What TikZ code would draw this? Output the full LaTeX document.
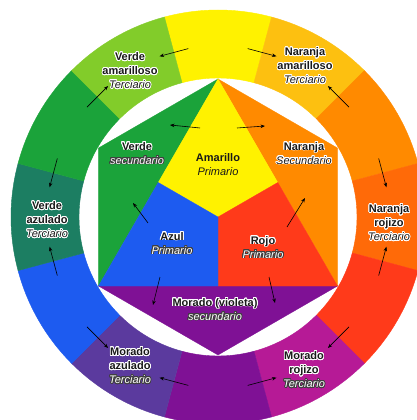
\documentclass[tikz,border=0pt]{standalone}
\usepackage{fontspec}
\setmainfont{Liberation Sans}
\usepackage[copies]{contour}
\usetikzlibrary{arrows.meta}

\contourlength{0.8pt}
\contournumber{24}

% Colores del circulo
\definecolor{amarillo}{HTML}{FFF200}
\definecolor{naranjaamar}{HTML}{FDC010}
\definecolor{naranja}{HTML}{FF8A00}
\definecolor{naranjaroj}{HTML}{FF6A08}
\definecolor{rojo}{HTML}{FF3A1A}
\definecolor{moradoroj}{HTML}{B61A96}
\definecolor{morado}{HTML}{7F1195}
\definecolor{moradoazul}{HTML}{5B3A9E}
\definecolor{azul}{HTML}{1D5BF0}
\definecolor{verdeazul}{HTML}{1C7E62}
\definecolor{verde}{HTML}{1BA33A}
\definecolor{verdeamar}{HTML}{82CC2A}

\newcommand{\nombre}[1]{\contour{white}{\textcolor{black!90}{\bfseries #1}}}
\newcommand{\tipo}[1]{\contour{white}{\textcolor{black!90}{\itshape #1}}}
\newcommand{\tipob}[1]{\contour{black!75}{\textcolor{white}{\itshape #1}}}

\tikzset{
  etiqueta/.style={align=center, font=\fontsize{11}{14}\selectfont, inner sep=0pt},
  flecha/.style={-{Stealth[length=4.5pt,width=3.5pt]}, line width=0.6pt, black},
}

\begin{document}
\begin{tikzpicture}[x=1pt, y=1pt]
  % Marco de la imagen
  \useasboundingbox (-218,-203) rectangle (199,217);
  \clip (-218,-203) rectangle (199,217);
  \fill[white] (-218,-203) rectangle (199,217);

  % Anillo exterior de doce colores
  \foreach \c/\col in {90/amarillo, 60/naranjaamar, 30/naranja, 0/naranjaroj,
      -30/rojo, -60/moradoroj, -90/morado, -120/moradoazul, -150/azul,
      -180/verdeazul, 150/verde, 120/verdeamar}
    \filldraw[\col, line width=0.4pt] (\c-15:139) -- (\c-15:207)
      arc[start angle=\c-15, end angle=\c+15, radius=207] -- (\c+15:139)
      arc[start angle=\c+15, end angle=\c-15, radius=139] -- cycle;

  % Hexagono: secundarios
  \filldraw[verde, line width=0.3pt] (90:138) -- (150:138) -- (210:138) -- cycle;
  \filldraw[naranja, line width=0.3pt] (90:138) -- (30:138) -- (-30:138) -- cycle;
  \filldraw[morado, line width=0.3pt] (210:138) -- (270:138) -- (330:138) -- cycle;

  % Triangulo central: primarios
  \filldraw[amarillo, line width=0.3pt] (90:138) -- (150:69) -- (0,0) -- (30:69) -- cycle;
  \filldraw[rojo, line width=0.3pt] (0,0) -- (30:69) -- (330:138) -- (270:69) -- cycle;
  \filldraw[azul, line width=0.3pt] (0,0) -- (270:69) -- (210:138) -- (150:69) -- cycle;

  % Flechas del anillo
  \foreach \a/\b in {100/110, 80/70, 40/50, 20/10, -20/-10, -40/-50,
      -80/-70, -100/-110, -140/-130, -160/-170, 160/170, 140/130}
    \draw[flecha] (\a:171) -- (\b:171);

  % Flechas interiores
  \draw[flecha] (-18,89) -- (-48,92);
  \draw[flecha] (19,89) -- (47,91);
  \draw[flecha] (69,-10) -- (87,19);
  \draw[flecha] (51,-60) -- (57,-86);
  \draw[flecha] (-58,-60) -- (-65,-88);
  \draw[flecha] (-70,-6) -- (-85,14);

  % Etiquetas del anillo
  \node[etiqueta] (verdeamarT) at (-88,146) {\nombre{Verde}\\\nombre{amarilloso}\\\tipo{Terciario}};
  \node[etiqueta] (naranjaamarT) at (87,151) {\nombre{Naranja}\\\nombre{amarilloso}\\\tipo{Terciario}};
  \node[etiqueta] (verdeazulT) at (-171,-3) {\nombre{Verde}\\\nombre{azulado}\\\tipo{Terciario}};
  \node[etiqueta] (naranjarojT) at (171,-6) {\nombre{Naranja}\\\nombre{rojizo}\\\tipo{Terciario}};
  \node[etiqueta] (moradoazulT) at (-88,-149) {\nombre{Morado}\\\nombre{azulado}\\\tipob{Terciario}};
  \node[etiqueta] (moradorojT) at (86,-153) {\nombre{Morado}\\\nombre{rojizo}\\\tipob{Terciario}};

  % Etiquetas del hexagono
  \node[etiqueta] (amarilloP) at (0,52.5) {\textcolor{black!90}{\bfseries Amarillo}\\\textcolor{black!90}{\itshape Primario}};
  \node[etiqueta] (verdeS) at (-81,63.5) {\nombre{Verde}\\\tipob{secundario}};
  \node[etiqueta] (naranjaS) at (86,63.5) {\nombre{Naranja}\\\tipo{Secundario}};
  \node[etiqueta] (azulP) at (-46,-26.5) {\nombre{Azul}\\\tipob{Primario}};
  \node[etiqueta] (rojoP) at (45,-30.5) {\nombre{Rojo}\\\tipob{Primario}};
  \node[etiqueta] (moradoS) at (-3,-92.5) {\nombre{Morado (violeta)}\\\tipob{secundario}};
\end{tikzpicture}
\end{document}
